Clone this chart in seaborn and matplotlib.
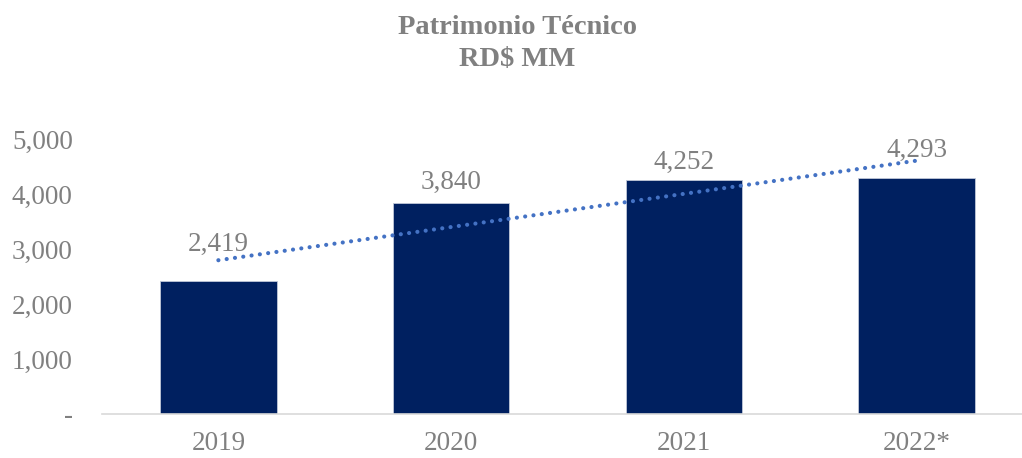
import numpy as np
import pandas as pd
import matplotlib
matplotlib.use("Agg")
import matplotlib.pyplot as plt
import seaborn as sns

categories = ["2019", "2020", "2021", "2022*"]
values = [2419, 3840, 4252, 4293]
ytick_values = [0, 1000, 2000, 3000, 4000, 5000]
ytick_labels = ["-", "1,000", "2,000", "3,000", "4,000", "5,000"]
value_labels = ["2,419", "3,840", "4,252", "4,293"]
label_offsets_pt = [17, 6, 4, 11]

sns.set_theme(style="white")
plt.rcParams["font.family"] = ["Liberation Serif", "DejaVu Serif"]

GRAY = "#808080"
NAVY = "#002060"
TREND = "#4472C4"

fig = plt.figure(figsize=(10.22, 4.58), dpi=100)
ax = fig.add_axes([102 / 1022, (458 - 414) / 458, (1033 - 102) / 1022, 275 / 458])

df = pd.DataFrame({"cat": categories, "val": values})
sns.barplot(data=df, x="cat", y="val", color=NAVY, width=0.5, saturation=1,
            edgecolor="#c0c8d8", linewidth=0.6, ax=ax)

# linear trend line
xs = np.arange(len(values))
slope, intercept = np.polyfit(xs, values, 1)
ax.plot(xs, slope * xs + intercept, color=TREND, linewidth=3.0,
        linestyle=(0, (0.01, 2.0)), dash_capstyle="round", zorder=3)

for i, (v, lab) in enumerate(zip(values, value_labels)):
    ax.annotate(lab, (i, v), xytext=(0, label_offsets_pt[i]), textcoords="offset points",
                ha="center", va="bottom", fontsize=19.5, color=GRAY)

ax.set_xlim(-0.5, len(categories) - 0.5)
ax.set_ylim(0, 5000)
ax.set_yticks(ytick_values)
ax.set_yticklabels(ytick_labels)
ax.tick_params(axis="both", length=0, labelsize=19.5, labelcolor=GRAY)
ax.tick_params(axis="y", pad=21)
ax.tick_params(axis="x", pad=12)
ax.set_xlabel("")
ax.set_ylabel("")
for s in ["top", "right", "left"]:
    ax.spines[s].set_visible(False)
ax.spines["bottom"].set_color("#d9d9d9")
ax.spines["bottom"].set_linewidth(1.2)
ax.grid(False)

fig.text(0.506, 1 - 27 / 458, "Patrimonio Técnico", ha="center", va="center",
         fontsize=20.5, fontweight="bold", color=GRAY)
fig.text(0.506, 1 - 60 / 458, "RD$ MM", ha="center", va="center",
         fontsize=20.5, fontweight="bold", color=GRAY)

fig.savefig("out.png", dpi=100)
